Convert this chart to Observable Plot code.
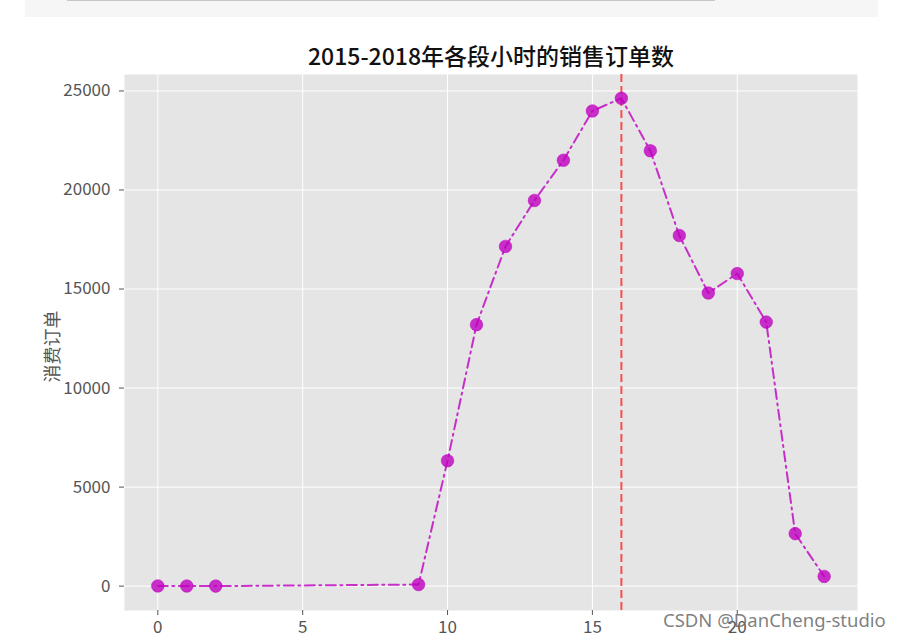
<!DOCTYPE html>
<html>
<head>
<meta charset="utf-8">
<script src="https://cdn.jsdelivr.net/npm/d3@7"></script>
<script src="https://cdn.jsdelivr.net/npm/@observablehq/plot@0.6"></script>
<style>
  html, body { margin: 0; padding: 0; background: #fff; }
  #wrap { position: relative; width: 906px; height: 641px; overflow: hidden; }
  #topbar { position: absolute; left: 25px; top: 0; width: 853px; height: 17px; background: #f6f6f6; }
  #topline { position: absolute; left: 42px; top: 0; width: 648px; height: 1px; background: #c8c8c8; }
  #wm { position: absolute; left: 663px; top: 607px; font-family: "Noto Sans", sans-serif; font-size: 18.5px; color: rgba(105,105,105,0.85); white-space: nowrap; }
</style>
</head>
<body>
<div id="wrap">
  <div id="chart"></div>
  <div id="topbar"><div id="topline"></div></div>
  <div id="wm">CSDN @DanCheng-studio</div>
</div>
<script>
const hours = [0, 1, 2, 9, 10, 11, 12, 13, 14, 15, 16, 17, 18, 19, 20, 21, 22, 23];
const orders = [10, 5, 3, 80, 6330, 13200, 17150, 19470, 21500, 23990, 24630, 21980, 17700, 14800, 15780, 13330, 2650, 490];
const xTicks = [0, 5, 10, 15, 20];
const yTicks = [0, 5000, 10000, 15000, 20000, 25000];
const peakHour = [16];
const title = "2015-2018年各段小时的销售订单数";
const yLabel = "消费订单";

const data = hours.map((h, i) => ({hour: h, count: orders[i]}));
const font = "'Noto Sans CJK SC', 'Noto Sans', sans-serif";
const tickFont = "'Liberation Sans Narrow', 'Noto Sans CJK SC', sans-serif";

const chart = Plot.plot({
  width: 906,
  height: 641,
  marginLeft: 124,
  marginRight: 49,
  marginTop: 74,
  marginBottom: 31,
  style: {fontFamily: font, background: "#fff", overflow: "visible"},
  x: {domain: [-1.15, 24.15]},
  y: {domain: [-1230, 25830]},
  marks: [
    Plot.frame({fill: "#e5e5e5", stroke: null}),
    Plot.gridX(xTicks, {stroke: "#fff", strokeOpacity: 1, strokeWidth: 1}),
    Plot.gridY(yTicks, {stroke: "#fff", strokeOpacity: 1, strokeWidth: 1}),
    Plot.axisX(xTicks, {tickSize: 5, tickPadding: 5, fontSize: 17, fontFamily: tickFont, color: "#555", stroke: "#555", label: null, tickFormat: d => String(d)}),
    Plot.axisY(yTicks, {tickSize: 5, tickPadding: 9, fontSize: 17, fontFamily: tickFont, color: "#555", stroke: "#555", label: null, tickFormat: d => String(d)}),
    Plot.ruleX(peakHour, {stroke: "#ff3333", strokeOpacity: 0.85, strokeWidth: 2, strokeDasharray: "8,4"}),
    Plot.line(data, {x: "hour", y: "count", stroke: "#bf00bf", strokeOpacity: 0.8, strokeWidth: 2, strokeDasharray: "10,4.5,2,4.5"}),
    Plot.dot(data, {x: "hour", y: "count", r: 6.3, fill: "#bf00bf", fillOpacity: 0.8, stroke: "#bf00bf", strokeOpacity: 0.5, strokeWidth: 1}),
    Plot.text([title], {frameAnchor: "top", lineAnchor: "middle", dy: -17, fontSize: 23, fontWeight: 500, fill: "#111", fontFamily: font}),
    Plot.text([yLabel], {frameAnchor: "left", textAnchor: "middle", lineAnchor: "middle", dx: -71, dy: 4, rotate: -90, fontSize: 18, fill: "#555", fontFamily: font})
  ]
});
document.getElementById("chart").appendChild(chart);
</script>
</body>
</html>
